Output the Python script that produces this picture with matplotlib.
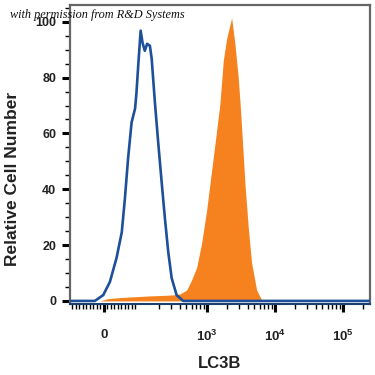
import numpy as np
import matplotlib
matplotlib.use("Agg")
import matplotlib.pyplot as plt

# histogram outlines (fluorescence, relative cell number)
ctrl_x = [-97, -26, -2, 17, 36, 51, 60, 69, 79, 89, 93, 98, 106, 113, 122, 132,
          145, 154, 172, 192, 216, 241, 270, 303, 358, 448, 250000]
ctrl_y = [0, 0, 2.1, 6.8, 15.4, 24.6, 36.8, 51, 63.9, 68.9, 74.6, 84.3, 96.8,
          92.5, 89.6, 92.1, 91.4, 86.8, 71, 56.8, 42.5, 29.6, 17.5, 8.2, 2.1, 0, 0]

lc3b_x = [-11, 11, 46, 89, 145, 241, 330, 401, 503, 595, 706, 836, 990, 1173,
          1389, 1553, 1738, 1950, 2308, 2582, 2886, 3130, 3350, 3622, 4050,
          4540, 5380, 6370, 7130]
lc3b_y = [0, 0.8, 1.2, 1.5, 1.8, 2, 2.2, 2.5, 3.9, 7.5, 12, 20.7, 32.5, 46.8,
          61, 70.7, 86, 94, 101.4, 92, 80, 68, 56, 42, 26.4,
          13.6, 3.9, 0.4, 0]

xticks = [0, 1e3, 1e4, 1e5]
xticklabels = ["0", r"$\mathbf{10^3}$", r"$\mathbf{10^4}$", r"$\mathbf{10^5}$"]
yticks = [0, 20, 40, 60, 80, 100]

plt.rcParams['font.family'] = ['Liberation Sans', 'DejaVu Sans']
plt.rcParams['mathtext.fontset'] = 'custom'
plt.rcParams['mathtext.bf'] = 'Liberation Sans:bold'
plt.rcParams['mathtext.rm'] = 'Liberation Sans:bold'

fig = plt.figure(figsize=(3.75, 3.75), dpi=100)
ax = fig.add_axes([70/375, 1 - 304/375, 300/375, 299/375])

ax.fill_between(lc3b_x, lc3b_y, 0, color='#f5821f', lw=0, zorder=2)
ax.plot(ctrl_x, ctrl_y, color='#1d4f9a', lw=1.9, zorder=3, solid_joinstyle='round')

ax.set_xscale('symlog', linthresh=100, linscale=0.463)
ax.set_xlim(-97, 2.5e5)
ax.set_ylim(-1.1, 106)

minor = [v for v in range(-90, 100, 10) if v != 0]
for dec in [100, 1000, 10000, 100000]:
    minor += [dec * s for s in range(2, 10) if dec * s < 2.5e5]
ax.set_xticks(xticks)
ax.set_xticklabels(xticklabels)
ax.set_xticks(minor, minor=True)
ax.set_yticks(yticks)
ax.set_yticks(np.arange(0, 106, 5), minor=True)

ax.tick_params(axis='both', which='major', length=6, width=2.2, color='black',
               labelcolor='#222222')
ax.tick_params(axis='both', which='minor', length=3.5, width=1, color='black')
ax.tick_params(axis='x', which='major', pad=12, labelsize=9.5)
ax.tick_params(axis='y', which='major', pad=4, labelsize=9)
for lbl in ax.get_xticklabels() + ax.get_yticklabels():
    lbl.set_fontweight('bold')

for side in ['top', 'right', 'left']:
    ax.spines[side].set_color('#666666')
    ax.spines[side].set_linewidth(1.6)
ax.spines['bottom'].set_color('#1d3f6a')
ax.spines['bottom'].set_linewidth(1.5)

ax.set_xlabel('LC3B', fontsize=12, fontweight='bold', color='#222222')
ax.xaxis.set_label_coords(0.5, -0.175)
ax.set_ylabel('Relative Cell Number', fontsize=12.5, fontweight='bold',
              color='#222222')
ax.yaxis.set_label_coords(-0.165, 0.418)

fig.text(0.027, 0.953, 'with permission from R&D Systems', fontsize=8.8,
         family='Liberation Serif', style='italic', color='#111111', zorder=10)

fig.savefig('out.png', dpi=100)
